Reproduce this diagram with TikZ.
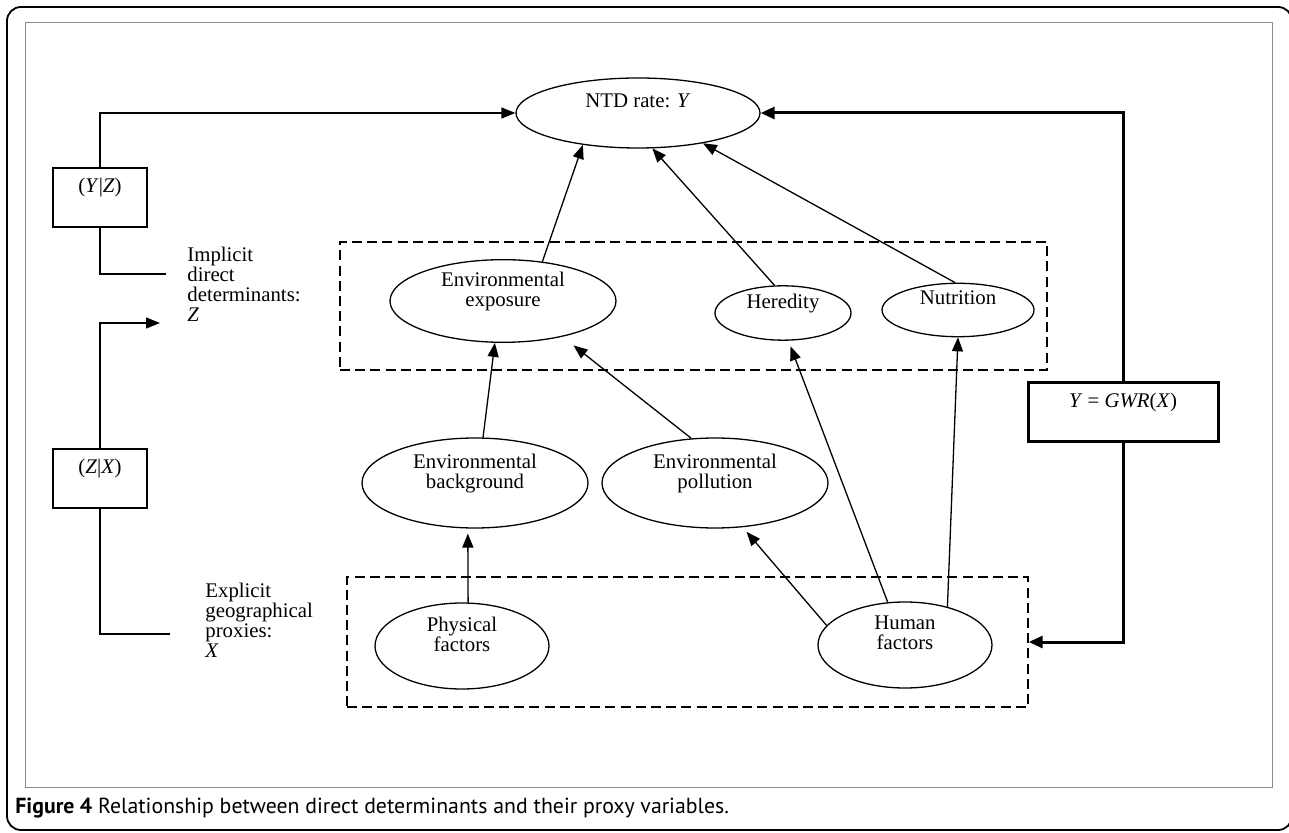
\documentclass[tikz,border=0pt]{standalone}
\usepackage{fontspec}
\setmainfont{Liberation Serif}
\newfontfamily\capfont{PT Sans}
\usepackage{tikz}
\usetikzlibrary{positioning,arrows.meta,shapes.geometric}
\tikzset{
  factor/.style={ellipse, draw, line width=0.65pt, inner sep=0pt, align=center},
  groupbox/.style={rectangle, draw, line width=0.7pt, inner sep=0pt, dash pattern=on 5pt off 2.6pt},
  relbox/.style={rectangle, draw, line width=0.65pt, inner sep=0pt, align=center, minimum width=47pt, minimum height=29.5pt},
  gwrbox/.style={rectangle, draw, line width=1.5pt, inner sep=0pt, align=center, minimum width=95pt, minimum height=29.5pt},
  sidelabel/.style={align=left, inner sep=0pt, anchor=west},
  link/.style={line width=0.65pt},
  fwd/.style={-{Triangle[length=7pt, width=5.5pt]}, line width=0.65pt},
  gwrfwd/.style={-{Triangle[length=7pt, width=6pt]}, line width=1.5pt},
}
\newcommand{\toppad}{\\[2pt]\mbox{}} % lifts the text towards the top of its shape

\begin{document}
\begin{tikzpicture}[x=0.5pt, y=-0.5pt, font=\fontsize{10.4}{10}\selectfont]
  \useasboundingbox (0,0) rectangle (1289,833);
  \draw[line width=0.9pt, rounded corners=7pt] (7,7) rectangle (1292,830);
  \draw[black!45, line width=0.5pt] (25,23) rectangle (1272,787);

  % groups
  \node[groupbox, minimum width=353.5pt, minimum height=64pt] (zbox) at (693.5,306) {};
  \node[groupbox, minimum width=340.5pt, minimum height=65pt] (xbox) at (687.5,642) {};

  % factors
  \node[factor, minimum width=122pt, minimum height=35pt] (ntd) at (638,113) {NTD rate: \textit{Y}\toppad};
  \node[factor, minimum width=113pt, minimum height=41pt] (exposure) at (503,301) {Environmental\\exposure\toppad};
  \node[factor, minimum width=68pt, minimum height=26pt] (heredity) at (783,313) {Heredity\toppad};
  \node[factor, minimum width=76pt, minimum height=26pt] (nutrition) at (958,310) {Nutrition\toppad};
  \node[factor, minimum width=113pt, minimum height=45pt] (background) at (475,483) {Environmental\\background\toppad};
  \node[factor, minimum width=113pt, minimum height=45pt] (pollution) at (715,483) {Environmental\\pollution\toppad};
  \node[factor, minimum width=87pt, minimum height=43pt] (physical) at (462,646) {Physical\\factors\toppad};
  \node[factor, minimum width=87pt, minimum height=43pt] (human) at (905,645) {Human\\factors\toppad};

  % models
  \node[relbox] (yz) at (100,197.5) {(\textit{Y}|\textit{Z})\toppad};
  \node[relbox] (zx) at (100,478.5) {(\textit{Z}|\textit{X})\toppad};
  \node[gwrbox] (gwr) at (1123,412.5) {\textit{Y} = \textit{GWR}(\textit{X})\toppad};

  \node[sidelabel] (implicit) at (187,284) {Implicit\\direct\\determinants:\\\textit{Z}};
  \node[sidelabel] (explicit) at (205,620) {Explicit\\geographical\\proxies:\\\textit{X}};
  \coordinate (zout) at (166,274);
  \coordinate (zin) at (160,323);
  \coordinate (xout) at (170,634);

  \draw[fwd] (yz.north) |- (ntd.west);
  \draw[link] (zout) -| (yz.south);
  \draw[fwd] (zx.north) |- (zin);
  \draw[link] (xout) -| (zx.south);
  \draw[gwrfwd] (gwr.north) |- (ntd.east);
  \draw[gwrfwd] (gwr.south) |- (xbox.east);

  \draw[fwd] (exposure.45) -- (ntd.-150);
  \draw[fwd] (heredity.107) -- (ntd.-68);
  \draw[fwd] (nutrition.96) -- (ntd.-25);
  \draw[fwd] (background.80) -- (exposure.-101);
  \draw[fwd, shorten >=7pt] (pollution.118) -- (exposure.-31);
  \draw[fwd, shorten >=2.5pt] (physical.82) -- (background.-99);
  \draw[fwd, shorten >=3pt] (human.166) -- (pollution.-58);
  \draw[fwd, shorten >=3pt] (human.112) -- (heredity.-79);
  \draw[fwd] (human.42) -- (nutrition.south);

  \node[anchor=base west, inner sep=0pt, font=\capfont\fontsize{10.9}{12}\selectfont] (caption) at (15,813)
    {\textbf{Figure 4} Relationship between direct determinants and their proxy variables.};
\end{tikzpicture}
\end{document}
